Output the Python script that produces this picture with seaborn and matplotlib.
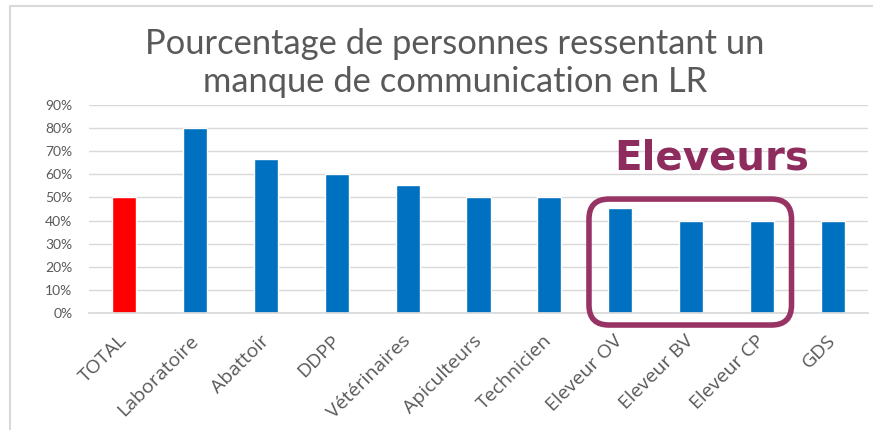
import matplotlib.pyplot as plt
import seaborn as sns
from matplotlib.patches import FancyBboxPatch, Rectangle
from matplotlib.transforms import IdentityTransform
from matplotlib.ticker import PercentFormatter

categories = ["TOTAL", "Laboratoire", "Abattoir", "DDPP", "Vétérinaires",
              "Apiculteurs", "Technicien", "Eleveur OV", "Eleveur BV",
              "Eleveur CP", "GDS"]
values = [0.50, 0.80, 0.667, 0.60, 0.556, 0.50, 0.50, 0.455, 0.40, 0.40, 0.40]
bar_colors = ["#FF0000"] + ["#0070C0"] * 10

sns.set_theme(style="white")
plt.rcParams["font.family"] = ["Lato", "DejaVu Sans"]

fig = plt.figure(figsize=(8.73, 4.30), dpi=100)
ax = fig.add_axes([89 / 873, 1 - 313 / 430, (868 - 89) / 873, (313 - 105) / 430])

sns.barplot(x=categories, y=values, hue=categories,
            palette=dict(zip(categories, bar_colors)), legend=False,
            width=0.34, saturation=1, ax=ax)

ax.set_xlim(-0.5, len(categories) - 0.5)
ax.set_ylim(0, 0.9)
ax.set_yticks([i / 10 for i in range(10)])
ax.yaxis.set_major_formatter(PercentFormatter(1.0, decimals=0))
ax.grid(axis="y", color="#d9d9d9", linewidth=1)
ax.set_axisbelow(True)
for s in ["top", "right", "left"]:
    ax.spines[s].set_visible(False)
ax.spines["bottom"].set_color("#d9d9d9")
ax.set_xlabel("")
ax.set_ylabel("")
ax.tick_params(axis="y", labelsize=10, labelcolor="#595959", length=0, pad=12)
ax.tick_params(axis="x", labelsize=14, labelcolor="#595959", length=0, pad=18)
for lab in ax.get_xticklabels():
    lab.set_rotation(45)
    lab.set_ha("right")
    lab.set_va("center")
    lab.set_rotation_mode("anchor")
    lab.set_family(["Open Sans", "DejaVu Sans"])

fig.text(455 / 873, 1 - 63 / 430,
         "Pourcentage de personnes ressentant un\nmanque de communication en LR",
         ha="center", va="center", fontsize=24.8, color="#595959",
         linespacing=1.22)

# frame of the chart area
fig.add_artist(Rectangle((10 / 873, -0.05), 1.2, (424 / 430) + 0.05,
                         transform=fig.transFigure, fill=False,
                         edgecolor="#d9d9d9", linewidth=1.5))

# highlight box around the Eleveur groups
fig.canvas.draw()
x0, y0 = ax.transData.transform((6.56, -0.052))
x1, y1 = ax.transData.transform((9.42, 0.493))
fig.add_artist(FancyBboxPatch((x0, y0), x1 - x0, y1 - y0,
                              boxstyle="round,pad=0,rounding_size=20",
                              transform=IdentityTransform(), fill=False,
                              edgecolor="#983464", linewidth=4))
fig.text(712 / 873, 1 - 158 / 430, "Eleveurs", ha="center", va="center",
         fontsize=29, fontweight="bold", color="#8E2C5D",
         family="DejaVu Sans")

fig.savefig("out.png", dpi=100)
